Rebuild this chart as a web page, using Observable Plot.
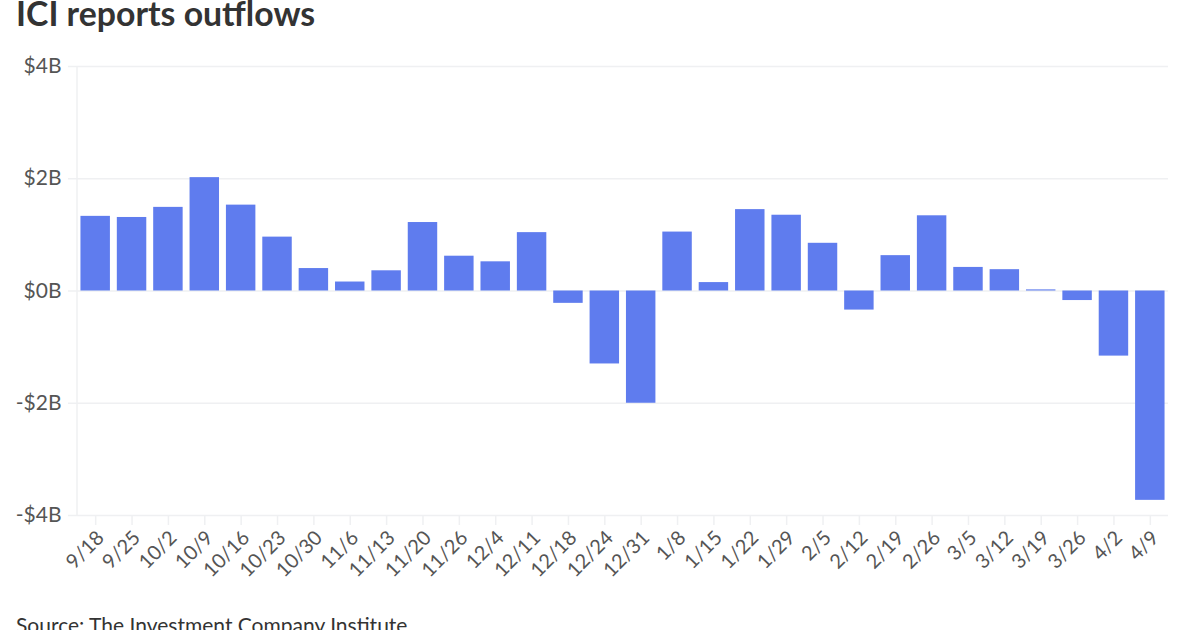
<!DOCTYPE html>
<html>
<head>
<meta charset="utf-8">
<script src="https://cdn.jsdelivr.net/npm/d3@7"></script>
<script src="https://cdn.jsdelivr.net/npm/@observablehq/plot@0.6"></script>
<style>
  html, body { margin: 0; padding: 0; background: #fff; overflow: hidden; height: 630px; font-family: Lato, sans-serif; }
  h1 { margin: 0; padding-left: 16px; height: 42px; font-size: 33.8px; line-height: 27px; font-weight: 700; color: #333; }
  #chart svg { display: block; }
  .source { padding-left: 16px; margin-top: 26px; font-size: 21px; line-height: 28px; color: #333; }
</style>
</head>
<body>
<h1>ICI reports outflows</h1>
<div id="chart"></div>
<div class="source">Source: The Investment Company Institute</div>
<script>
// weekly flows, $ billions
const weeks = ['9/18','9/25','10/2','10/9','10/16','10/23','10/30','11/6','11/13','11/20','11/26','12/4','12/11','12/18','12/24','12/31','1/8','1/15','1/22','1/29','2/5','2/12','2/19','2/26','3/5','3/12','3/19','3/26','4/2','4/9']
const flows = [1.33,1.31,1.49,2.02,1.53,0.96,0.40,0.16,0.36,1.22,0.62,0.52,1.04,-0.22,-1.30,-2.00,1.05,0.15,1.45,1.35,0.85,-0.34,0.63,1.34,0.42,0.38,0.02,-0.17,-1.16,-3.73]
const yTicks = [-4, -2, 0, 2, 4]

const data = weeks.map((week, i) => ({week: week, flow: flows[i]}))

const fmt = d => (d < 0 ? '-$' : '$') + Math.abs(d) + 'B'

const chart = Plot.plot({
  width: 1200,
  height: 543,
  marginTop: 24,
  marginBottom: 70,
  marginLeft: 77,
  marginRight: 32,
  style: {fontFamily: 'Lato', background: 'white'},
  x: {domain: weeks, paddingInner: 0.19, paddingOuter: 0.095, round: false, label: null},
  y: {domain: [-4, 4], label: null},
  marks: [
    Plot.ruleY(yTicks, {stroke: '#eff0f2', strokeWidth: 1.5, strokeOpacity: 1}),
    Plot.axisY({
      ticks: yTicks,
      tickFormat: fmt,
      tickSize: 9,
      tickPadding: 7,
      stroke: '#eff0f2',
      strokeWidth: 1.5,
      strokeOpacity: 1,
      fill: '#555',
      fontSize: 21,
      label: null
    }),
    // ticks and labels apart, the labels sit a bit right of their tick
    Plot.axisX({
      tickSize: 10,
      text: null,
      stroke: '#eff0f2',
      strokeWidth: 1.5,
      strokeOpacity: 1,
      label: null
    }),
    Plot.axisX({
      tickSize: 0,
      tickPadding: 19,
      tickRotate: -45,
      dx: 5,
      fill: '#555',
      fontSize: 20,
      label: null
    }),
    Plot.barY(data, {x: 'week', y: 'flow', fill: '#5f7cee'})
  ]
})

d3.select('#chart').append(() => chart)

// light vertical line at the left edge of the plot
d3.select(chart).append('line')
  .attr('x1', 77).attr('x2', 77).attr('y1', 24).attr('y2', 473)
  .attr('stroke', '#eff0f2').attr('stroke-width', 1.5)
</script>
</body>
</html>
